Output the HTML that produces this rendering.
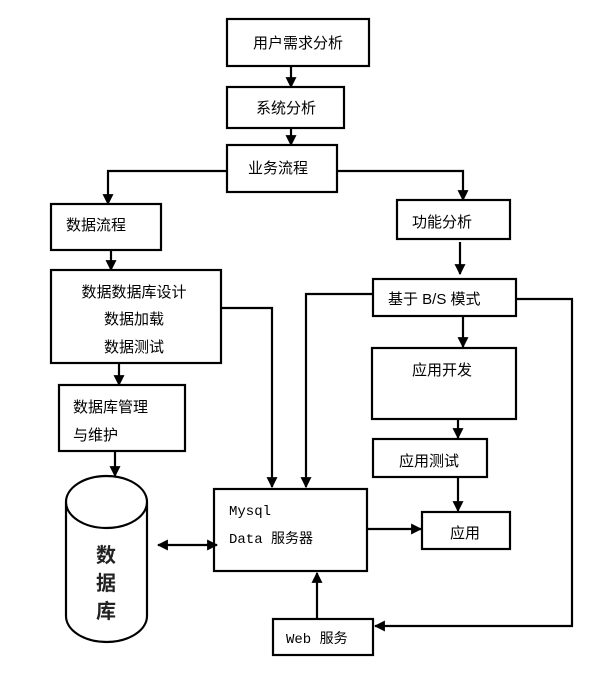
<!DOCTYPE html>
<html><head><meta charset="utf-8"><style>
html,body{margin:0;padding:0;background:#fff;}
svg text{font-family:"Liberation Sans","Noto Sans CJK SC",sans-serif;font-size:15px;fill:#000;}
</style></head><body>
<svg width="613" height="673" viewBox="0 0 613 673" xmlns="http://www.w3.org/2000/svg">
<defs><marker id="a" viewBox="0 0 10 10" refX="9" refY="5" markerWidth="5" markerHeight="5" orient="auto-start-reverse"><path d="M0,0L10,5L0,10z" fill="#000"/></marker></defs>
<g fill="none" stroke="#000" stroke-width="2.2">
<rect x="227" y="19" width="142" height="47"/>
<rect x="227" y="87" width="117" height="41"/>
<rect x="227" y="145" width="110" height="47"/>
<rect x="51" y="204" width="110" height="46"/>
<rect x="397" y="200" width="113" height="39"/>
<rect x="51" y="270" width="170" height="93"/>
<rect x="373" y="279" width="143" height="37"/>
<rect x="372" y="348" width="144" height="71"/>
<rect x="373" y="439" width="114" height="38"/>
<rect x="422" y="512" width="88" height="37"/>
<rect x="59" y="385" width="126" height="66"/>
<rect x="214" y="489" width="153" height="82"/>
<rect x="273" y="619" width="100" height="36"/>
<path d="M66,502 A40.5,26 0 0 1 147,502 L147,616 A40.5,26 0 0 1 66,616 Z M66,502 A40.5,26 0 0 0 147,502"/>
</g>
<g fill="none" stroke="#000" stroke-width="2.2" marker-end="url(#a)">
<path d="M291,66V87"/>
<path d="M291,128V145"/>
<path d="M227,171H108V204"/>
<path d="M337,171H463V200"/>
<path d="M460,242V274"/>
<path d="M111,250V270"/>
<path d="M119,363V385"/>
<path d="M115,451V476"/>
<path d="M221,308H272V487"/>
<path d="M373,294H306V487"/>
<path d="M516,299H572V626H375"/>
<path d="M463,316V347"/>
<path d="M458,419V438"/>
<path d="M458,477V511"/>
<path d="M367,529H421"/>
<path d="M317,619V573"/>
<path d="M158,545H217" marker-start="url(#a)"/>
</g>
<text x="298" y="48" text-anchor="middle">用户需求分析</text>
<text x="286" y="113" text-anchor="middle">系统分析</text>
<text x="278" y="173" text-anchor="middle">业务流程</text>
<text x="66" y="230">数据流程</text>
<text x="412" y="227">功能分析</text>
<text x="134" y="297" text-anchor="middle">数据数据库设计</text>
<text x="134" y="324" text-anchor="middle">数据加载</text>
<text x="134" y="352" text-anchor="middle">数据测试</text>
<text x="388" y="304">基于 B/S 模式</text>
<text x="442" y="375" text-anchor="middle">应用开发</text>
<text x="429" y="466" text-anchor="middle">应用测试</text>
<text x="465" y="538" text-anchor="middle">应用</text>
<text x="73" y="412">数据库管理</text>
<text x="73" y="440">与维护</text>
<text x="229" y="515" font-family="Liberation Mono" style="font-family:'Liberation Mono','Noto Sans CJK SC',monospace;font-size:14px">Mysql</text>
<text x="229" y="543" style="font-family:'Liberation Mono','Noto Sans CJK SC',monospace;font-size:14px">Data 服务器</text>
<text x="286" y="643" style="font-family:'Liberation Mono','Noto Sans CJK SC',monospace;font-size:14px">Web 服务</text>
<text x="106" y="562" text-anchor="middle" style="font-size:20px;font-weight:bold;fill:#222">数</text>
<text x="106" y="590" text-anchor="middle" style="font-size:20px;font-weight:bold;fill:#222">据</text>
<text x="106" y="618" text-anchor="middle" style="font-size:20px;font-weight:bold;fill:#222">库</text>
</svg>
</body></html>
